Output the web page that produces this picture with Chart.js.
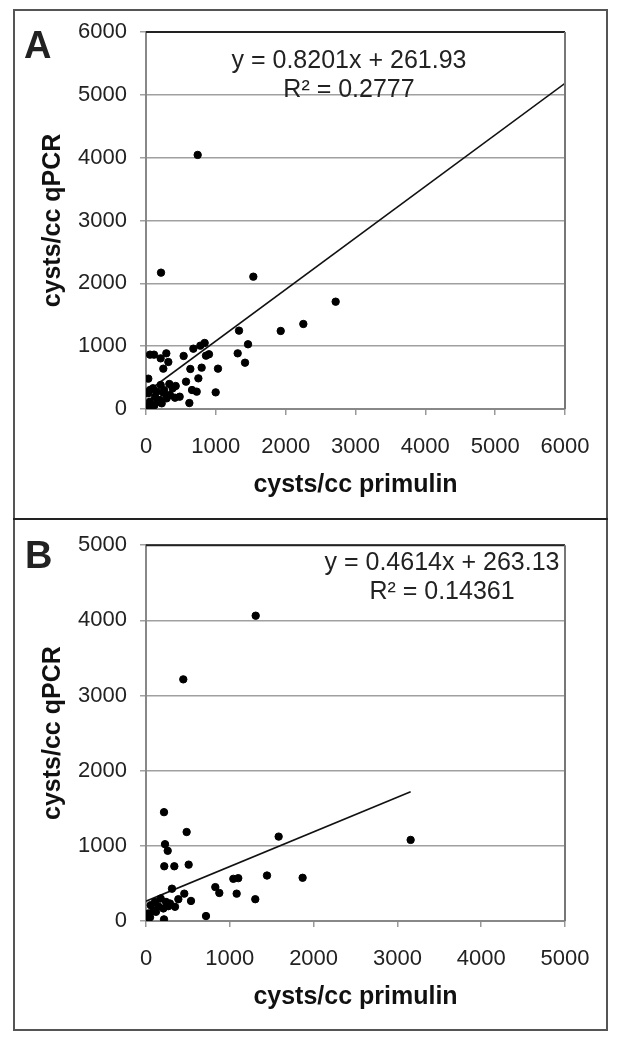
<!DOCTYPE html>
<html>
<head>
<meta charset="utf-8">
<script src="https://cdn.jsdelivr.net/npm/chart.js@4.4.1/dist/chart.umd.min.js"></script>
<style>
  html, body { margin: 0; padding: 0; background: #fff; }
  body { width: 619px; height: 1049px; position: relative; overflow: hidden;
         font-family: "Liberation Sans", Arial, sans-serif; color: #222; }
  .frame { position: absolute; left: 13px; top: 9px; width: 595px; height: 1022px;
           border: 2px solid #555; box-sizing: border-box; }
  .sep { position: absolute; left: 13px; top: 518px; width: 595px; height: 2px; background: #222; }
  canvas { position: absolute; left: 0; }
  #chartA { top: 0; }
  #chartB { top: 519px; }
  .letter { position: absolute; font-weight: bold; font-size: 38px; line-height: 1; }
  .eq { position: absolute; font-size: 25px; line-height: 29px; text-align: center; white-space: nowrap; }
</style>
</head>
<body>
<div class="frame"></div>
<div class="sep"></div>
<canvas id="chartA" width="619" height="519"></canvas>
<canvas id="chartB" width="619" height="512"></canvas>
<div class="letter" style="left:24px; top:26px;">A</div>
<div class="letter" style="left:25px; top:536px;">B</div>
<div class="eq" style="left:224px; top:45px; width:250px;">y = 0.8201x + 261.93<br>R² = 0.2777</div>
<div class="eq" style="left:317px; top:547px; width:250px;">y = 0.4614x + 263.13<br>R² = 0.14361</div>
<script>
// Panel A: cysts/cc primulin vs cysts/cc qPCR
const primulinA = [740, 215, 1537, 2716, 2253, 1929, 1332, 1461, 1313, 1418,
  840, 778, 678, 902, 859, 539, 797, 635, 1031, 750,
  573, 998, 659, 726, 621, 482, 291, 210, 320, 248,
  57, 115, 33, 334, 425, 382, 210, 57, 153, 248,
  344, 415, 129, 200, 225, 57, 33, 82, 296, 10,
  100, 170, 260, 30, 120];
const qpcrA = [4044, 2170, 2106, 1708, 1353, 1242, 1247, 1030, 886, 737,
  1051, 1008, 960, 871, 849, 844, 658, 637, 642, 488,
  435, 265, 302, 276, 95, 196, 886, 806, 748, 642,
  865, 865, 483, 398, 366, 329, 382, 302, 276, 260,
  223, 180, 196, 143, 90, 117, 37, 48, 170, 5,
  330, 120, 300, 250, 60];
const trendA = { slope: 0.8201, intercept: 261.93, from: 0, to: 6000 };

// Panel B
const primulinB = [1309, 445, 215, 485, 227, 259, 218, 338, 509, 1583,
  1042, 1101, 1444, 1869, 3158, 827, 875, 1082, 1304, 716,
  457, 537, 310, 386, 346, 286, 239, 175, 107, 56,
  147, 207, 87, 28, 48, 215, 8, 119, 266];
const qpcrB = [4062, 3215, 1448, 1184, 1022, 934, 728, 728, 750, 1123,
  561, 570, 605, 575, 1079, 451, 373, 364, 290, 66,
  364, 267, 430, 290, 189, 233, 254, 299, 254, 211,
  197, 167, 136, 101, 49, 22, 13, 122, 197];
const trendB = { slope: 0.4614, intercept: 263.13, from: 0, to: 3158 };

const FONT = '"Liberation Sans", Arial, sans-serif';

// Draws the dark top edge and grey right edge of the plot area
const plotFrame = {
  id: 'plotFrame',
  afterDraw(chart) {
    const { ctx, chartArea: a } = chart;
    ctx.save();
    ctx.lineWidth = 2;
    ctx.strokeStyle = '#222';
    ctx.beginPath();
    ctx.moveTo(a.left, a.top);
    ctx.lineTo(a.right, a.top);
    ctx.stroke();
    ctx.strokeStyle = '#777';
    ctx.beginPath();
    ctx.moveTo(a.right, a.top);
    ctx.lineTo(a.right, a.bottom);
    ctx.stroke();
    ctx.restore();
  }
};

function makePanel(id, xs, ys, trend, max, topPad, boxH) {
  const points = xs.map((x, i) => ({ x: x, y: ys[i] }));
  const line = [trend.from, trend.to].map(x => ({ x: x, y: trend.slope * x + trend.intercept }));
  const tickFont = { family: FONT, size: 22 };
  const titleFont = { family: FONT, size: 25, weight: 'bold' };
  const plain = v => String(v);

  return new Chart(document.getElementById(id), {
    type: 'scatter',
    data: {
      datasets: [
        {
          label: 'samples',
          data: points,
          backgroundColor: '#000',
          borderColor: '#000',
          pointRadius: 3.7,
          pointHoverRadius: 3.7
        },
        {
          type: 'line',
          label: 'trend',
          data: line,
          borderColor: '#111',
          borderWidth: 1.6,
          pointRadius: 0,
          fill: false
        }
      ]
    },
    options: {
      responsive: false,
      animation: false,
      events: [],
      layout: { padding: { top: topPad, right: 54, left: 0, bottom: 0 } },
      plugins: { legend: { display: false }, tooltip: { enabled: false } },
      scales: {
        x: {
          type: 'linear',
          min: 0,
          max: max,
          afterFit: s => { s.height = boxH; },
          ticks: { stepSize: 1000, color: '#222', font: tickFont, padding: 19, maxRotation: 0, callback: plain },
          grid: { drawOnChartArea: false, drawTicks: true, tickLength: 6, color: '#999', lineWidth: 1.5 },
          border: { color: '#888', width: 2 },
          title: { display: true, text: 'cysts/cc primulin', color: '#111', font: titleFont,
                   padding: { top: 0, bottom: 19 } }
        },
        y: {
          type: 'linear',
          min: 0,
          max: max,
          afterFit: s => { s.width = 146; },
          ticks: { stepSize: 1000, color: '#222', font: tickFont, padding: 13, callback: plain },
          grid: { drawTicks: true, tickLength: 6, color: '#a0a0a0', lineWidth: 1.5 },
          border: { color: '#888', width: 2 },
          title: { display: true, text: 'cysts/cc qPCR', color: '#111', font: titleFont,
                   padding: { top: 38, bottom: 0 } }
        }
      }
    },
    plugins: [plotFrame]
  });
}

makePanel('chartA', primulinA, qpcrA, trendA, 6000, 32, 110);
makePanel('chartB', primulinB, qpcrB, trendB, 5000, 22, 110);
</script>
</body>
</html>
